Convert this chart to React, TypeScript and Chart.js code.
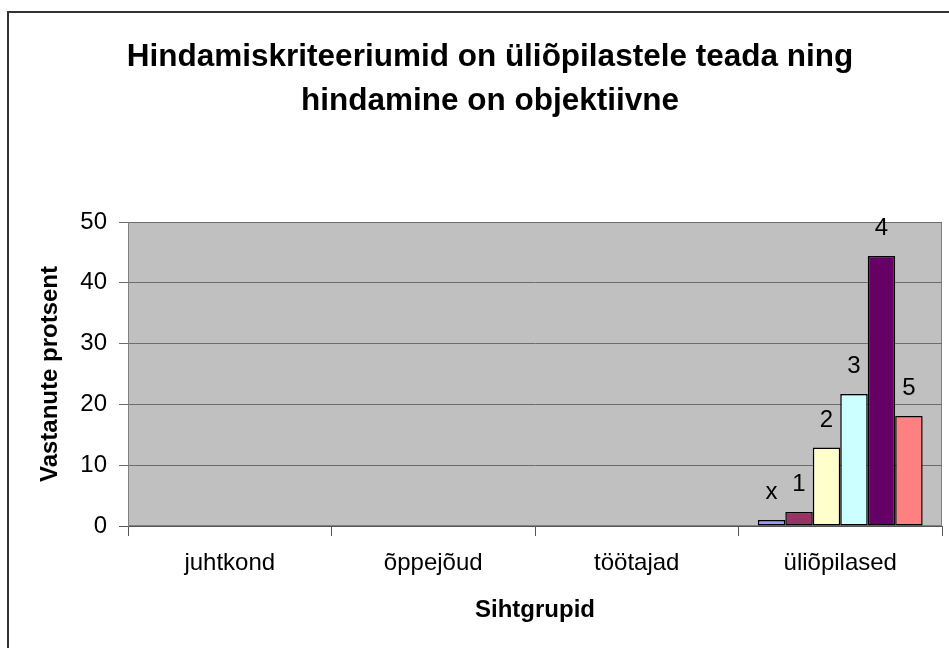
import React, { useEffect, useRef } from 'react';
import { Chart, registerables } from 'chart.js';

Chart.register(...registerables);

const categories = ['juhtkond', 'õppejõud', 'töötajad', 'üliõpilased'];
const seriesNames = ['x', '1', '2', '3', '4', '5'];
const seriesColors = ['#9999FF', '#993366', '#FFFFCC', '#CCFFFF', '#660066', '#FF8080'];
const valuesX = [null, null, null, 1.0];
const values1 = [null, null, null, 2.3];
const values2 = [null, null, null, 12.9];
const values3 = [null, null, null, 21.7];
const values4 = [null, null, null, 44.4];
const values5 = [null, null, null, 18.1];
const seriesValues = [valuesX, values1, values2, values3, values4, values5];
const yTickValues = [0, 10, 20, 30, 40, 50];

const titleLines = ['Hindamiskriteeriumid on üliõpilastele teada ning', 'hindamine on objektiivne'];
const yTitle = 'Vastanute protsent';
const xTitle = 'Sihtgrupid';

const FONT = '"Liberation Sans", Arial, sans-serif';

const backgroundPlugin = {
  id: 'plotBackground',
  beforeDraw(chart: any) {
    const { ctx, chartArea } = chart;
    ctx.save();
    ctx.fillStyle = '#C0C0C0';
    ctx.fillRect(chartArea.left, chartArea.top, chartArea.right - chartArea.left, chartArea.bottom - chartArea.top);
    ctx.strokeStyle = '#808080';
    ctx.lineWidth = 1;
    ctx.strokeRect(chartArea.left + 0.5, chartArea.top + 0.5, chartArea.right - chartArea.left - 1, chartArea.bottom - chartArea.top - 1);
    // outer chart border (right and bottom edges fall outside the visible frame)
    ctx.strokeStyle = '#333333';
    ctx.lineWidth = 2;
    ctx.strokeRect(8, 12, chart.width - 16, chart.height);
    ctx.restore();
  },
};

const labelPlugin = {
  id: 'seriesLabels',
  afterDatasetsDraw(chart: any) {
    const { ctx } = chart;
    ctx.save();
    ctx.font = `24px ${FONT}`;
    ctx.fillStyle = '#000';
    ctx.textAlign = 'center';
    ctx.textBaseline = 'alphabetic';
    chart.data.datasets.forEach((ds: any, i: number) => {
      const meta = chart.getDatasetMeta(i);
      meta.data.forEach((el: any, j: number) => {
        if (ds.data[j] == null) return;
        ctx.fillText(ds.label, el.x, el.y - 21);
      });
    });
    ctx.restore();
  },
};

export default function App() {
  const ref = useRef<HTMLCanvasElement>(null);
  useEffect(() => {
    document.body.style.margin = '0';
    const chart = new Chart(ref.current!, {
      type: 'bar',
      data: {
        labels: categories,
        datasets: seriesNames.map((name, i) => ({
          label: name,
          data: seriesValues[i],
          backgroundColor: seriesColors[i],
          borderColor: '#000000',
          borderWidth: 1.5,
          borderSkipped: false,
          barPercentage: 1,
          categoryPercentage: 0.81,
        })),
      },
      options: {
        responsive: false,
        animation: false,
        layout: { padding: { left: 38, right: 38, top: 0, bottom: 0 } },
        plugins: {
          legend: { display: false },
          tooltip: { enabled: false },
          title: {
            display: true,
            text: titleLines,
            color: '#000',
            font: { family: FONT, size: 31.5, weight: 'bold', lineHeight: 1.397 },
            padding: { top: 35, bottom: 99 },
          },
        },
        scales: {
          x: {
            offset: true,
            grid: { offset: true, drawOnChartArea: false, drawTicks: true, tickLength: 10, color: '#555555' },
            border: { display: true, color: '#555555', width: 1 },
            ticks: { color: '#000', font: { family: FONT, size: 24 }, padding: 13, maxRotation: 0, autoSkip: false },
            title: {
              display: true,
              text: xTitle,
              color: '#000',
              font: { family: FONT, size: 24, weight: 'bold' },
              padding: { top: 0, bottom: 35.6 },
            },
            afterFit(scale: any) {
              scale.height = 134;
            },
          },
          y: {
            min: 0,
            max: 50,
            afterBuildTicks(scale: any) {
              scale.ticks = yTickValues.map((v) => ({ value: v }));
            },
            grid: {
              drawTicks: true,
              tickLength: 9,
              color: (c: any) => (c.tick && c.tick.value === 0 ? '#555555' : '#6c6c6c'),
            },
            border: { display: true, color: '#808080', width: 1 },
            ticks: { color: '#000', font: { family: FONT, size: 24 }, padding: 12 },
            title: {
              display: true,
              text: yTitle,
              color: '#000',
              font: { family: FONT, size: 24, weight: 'bold', lineHeight: 1.0 },
              padding: { top: 0.6, bottom: 0 },
            },
            afterFit(scale: any) {
              scale.width = 90;
            },
          },
        },
      },
      plugins: [backgroundPlugin, labelPlugin],
    } as any);
    return () => chart.destroy();
  }, []);
  return (
    <div style={{ width: 949, height: 648, overflow: 'hidden', position: 'relative' }}>
      <canvas ref={ref} width={980} height={660} style={{ display: 'block' }} />
    </div>
  );
}
